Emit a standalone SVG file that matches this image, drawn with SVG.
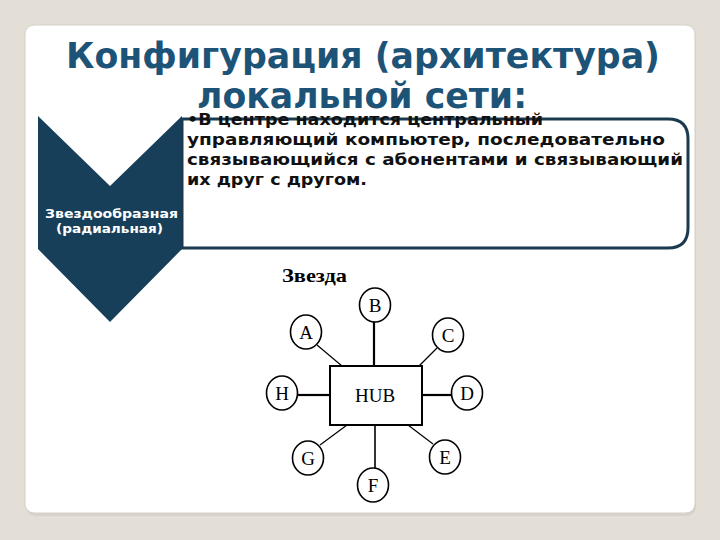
<svg xmlns="http://www.w3.org/2000/svg" width="720" height="540" viewBox="0 0 720 540">
<style>
.title{font-family:"DejaVu Sans",sans-serif;font-weight:bold;font-size:36px;fill:#1e5378;text-anchor:start}
.body{font-family:"DejaVu Sans",sans-serif;font-weight:bold;font-size:15.5px;fill:#111}
.chev{font-family:"DejaVu Sans",sans-serif;font-weight:bold;font-size:13px;fill:#ffffff}
.node circle,.node ellipse{fill:#fff;stroke:#000;stroke-width:1.6}
.node text,.lbl{font-family:"Liberation Serif",serif;font-size:19px;fill:#000;text-anchor:middle}
.conn line{stroke:#000}
</style>
<rect x="0" y="0" width="720" height="540" fill="#e4dfd6"/>
<rect x="26" y="28" width="670" height="488" rx="9" fill="#d8d3ca"/>
<rect x="25" y="25" width="670" height="488" rx="9" fill="#ffffff" stroke="#d6d1c8" stroke-width="1"/>
<g id="title">
<text class="title" x="66" y="68" textLength="594" lengthAdjust="spacingAndGlyphs">Конфигурация (архитектура)</text>
<text class="title" x="197" y="108" textLength="330" lengthAdjust="spacingAndGlyphs">локальной сети:</text>
</g>
<g id="chevron">
<polygon points="38,116 110,186 182,116 182,249 110,322 38,249" fill="#173f5a"/>
<text class="chev" x="45" y="218" textLength="133" lengthAdjust="spacingAndGlyphs">Звездообразная</text>
<text class="chev" x="56" y="233" textLength="107" lengthAdjust="spacingAndGlyphs">(радиальная)</text>
</g>
<g id="textbox">
<path d="M182,119 H668 Q688,119 688,139 V228 Q688,248 668,248 H182 Z" fill="#ffffff" stroke="#1b3a50" stroke-width="3"/>
<text class="body" x="187" y="125" textLength="356" lengthAdjust="spacingAndGlyphs">•В центре находится центральный</text>
<text class="body" x="187" y="145" textLength="478" lengthAdjust="spacingAndGlyphs">управляющий компьютер, последовательно</text>
<text class="body" x="187" y="165" textLength="496" lengthAdjust="spacingAndGlyphs">связывающийся с абонентами и связывающий</text>
<text class="body" x="187" y="185" textLength="180" lengthAdjust="spacingAndGlyphs">их друг с другом.</text>
</g>
<text class="lbl" x="282" y="282" font-weight="bold" font-size="20" style="text-anchor:start" textLength="65" lengthAdjust="spacingAndGlyphs">Звезда</text>
<g class="conn" id="connectors">
<line x1="374" y1="321" x2="374" y2="366" stroke-width="2.2"/>
<line x1="317" y1="345" x2="342" y2="366" stroke-width="1.2"/>
<line x1="437" y1="348" x2="419" y2="366" stroke-width="1.2"/>
<line x1="298" y1="395" x2="330" y2="395" stroke-width="2.2"/>
<line x1="422" y1="395" x2="451" y2="395" stroke-width="2.2"/>
<line x1="320" y1="445" x2="347" y2="425" stroke-width="1.2"/>
<line x1="375" y1="425" x2="375" y2="468" stroke-width="1.6"/>
<line x1="433" y1="444" x2="408" y2="425" stroke-width="1.2"/>
</g>
<g id="hub" class="node">
<rect x="330" y="366" width="92" height="59" fill="#fff" stroke="#000" stroke-width="2"/>
<text x="375" y="402" font-size="20">HUB</text>
</g>
<g id="nodeB" class="node"><ellipse cx="375" cy="305" rx="15.5" ry="17"/><text x="375" y="312">B</text></g>
<g id="nodeA" class="node"><ellipse cx="306" cy="332" rx="15.5" ry="17"/><text x="306" y="339">A</text></g>
<g id="nodeC" class="node"><ellipse cx="448" cy="335" rx="15.5" ry="17"/><text x="448" y="342">C</text></g>
<g id="nodeH" class="node"><ellipse cx="282" cy="393" rx="15.5" ry="17"/><text x="282" y="400">H</text></g>
<g id="nodeD" class="node"><ellipse cx="467" cy="393" rx="15.5" ry="17"/><text x="467" y="400">D</text></g>
<g id="nodeG" class="node"><ellipse cx="308" cy="458" rx="15.5" ry="17"/><text x="308" y="465">G</text></g>
<g id="nodeF" class="node"><ellipse cx="373" cy="485" rx="15.5" ry="17"/><text x="373" y="492">F</text></g>
<g id="nodeE" class="node"><ellipse cx="445" cy="457" rx="15.5" ry="17"/><text x="445" y="464">E</text></g>
</svg>
